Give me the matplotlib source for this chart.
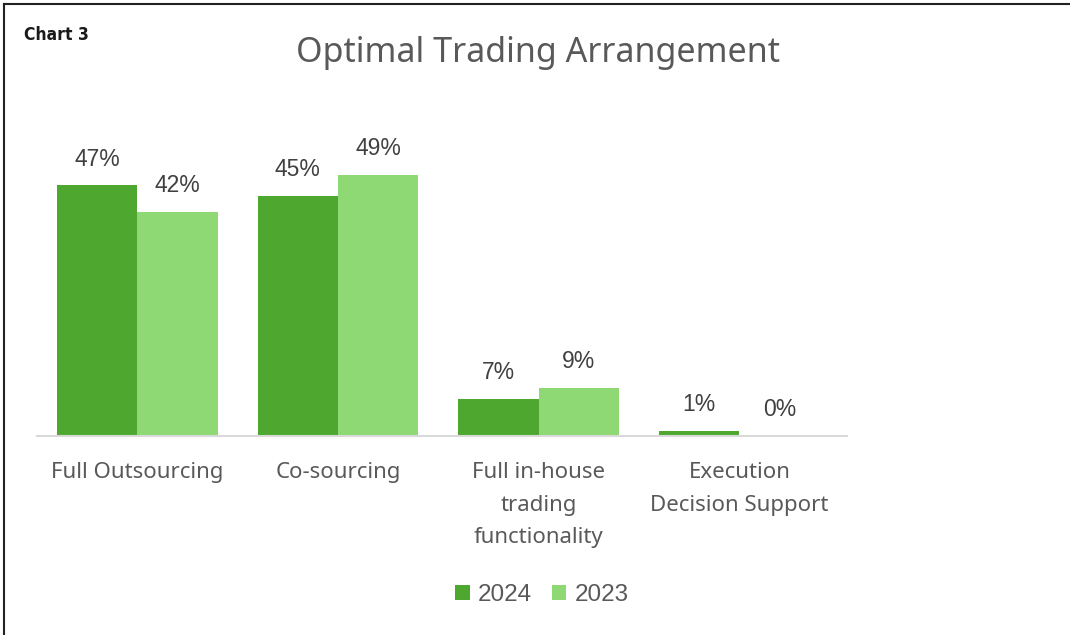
import numpy as np
import matplotlib.pyplot as plt
from matplotlib.lines import Line2D
from matplotlib.patches import Patch

categories = ["Full Outsourcing", "Co-sourcing", "Full in-house\ntrading\nfunctionality",
              "Execution\nDecision Support"]
series_names = ["2024", "2023"]
values_2024 = [47, 45, 7, 1]
values_2023 = [42, 49, 9, 0]

colors = ["#4EA72E", "#8ED973"]
text_gray = "#595959"

W, H = 1070, 635
fig = plt.figure(figsize=(W / 100, H / 100), dpi=100)
fig.set_facecolor("white")

# plot area in pixel terms (baseline at y=436, 5.33 px per %, 200.7 px per category)
left, right, base = 37, 847, 436
cat_px = 200.7
ymax = 60
top = base - ymax * 5.33
ax = fig.add_axes([left / W, (H - base) / H, (right - left) / W, (base - top) / H])
ax.set_xlim(-0.5, -0.5 + (right - left) / cat_px)
ax.set_ylim(0, ymax)

x = np.arange(len(categories))
bw = 0.4
for i, vals in enumerate([values_2024, values_2023]):
    xs = x + (i - 0.5) * bw
    ax.bar(xs, vals, width=bw, color=colors[i], zorder=2)
    for xi, v in zip(xs, vals):
        ax.text(xi, v + 2.8, f"{v}%", ha="center", va="bottom", fontsize=16.5,
                color="#404040", family="Liberation Sans")

for s in ["top", "right", "left"]:
    ax.spines[s].set_visible(False)
ax.spines["bottom"].set_color("#D9D9D9")
ax.spines["bottom"].set_linewidth(1.5)
ax.set_yticks([])
ax.set_xticks(x)
ax.set_xticklabels(categories, fontsize=16, color=text_gray, family="Noto Sans",
                   linespacing=1.7)
ax.tick_params(axis="x", length=0, pad=19)
ax.patch.set_alpha(0)

fig.text(538 / W, 1 - 53 / H, "Optimal Trading Arrangement", ha="center", va="center",
         fontsize=24.5, color=text_gray, family="Noto Sans")
fig.text(24 / W, 1 - 35 / H, "Chart 3", ha="left", va="center", fontsize=12.5,
         fontweight="bold", fontstretch="condensed", color="#1a1a1a",
         family=["DejaVu Sans"])

handles = [Patch(facecolor=c, edgecolor="none") for c in colors]
fig.legend(handles, series_names, loc="center", bbox_to_anchor=(542 / W, 1 - 595 / H),
           ncol=2, frameon=False, handlelength=0.6, handleheight=0.6,
           handletextpad=0.35, columnspacing=0.8,
           prop={"family": "Liberation Sans", "size": 17.5}, labelcolor=text_gray)

# frame lines along top and left edge
fig.add_artist(Line2D([4 / W, 1], [1 - 4 / H, 1 - 4 / H], color="#222222", lw=1.5))
fig.add_artist(Line2D([4 / W, 4 / W], [0, 1 - 4 / H], color="#222222", lw=1.5))

fig.savefig("out.png", dpi=100, facecolor="white")
